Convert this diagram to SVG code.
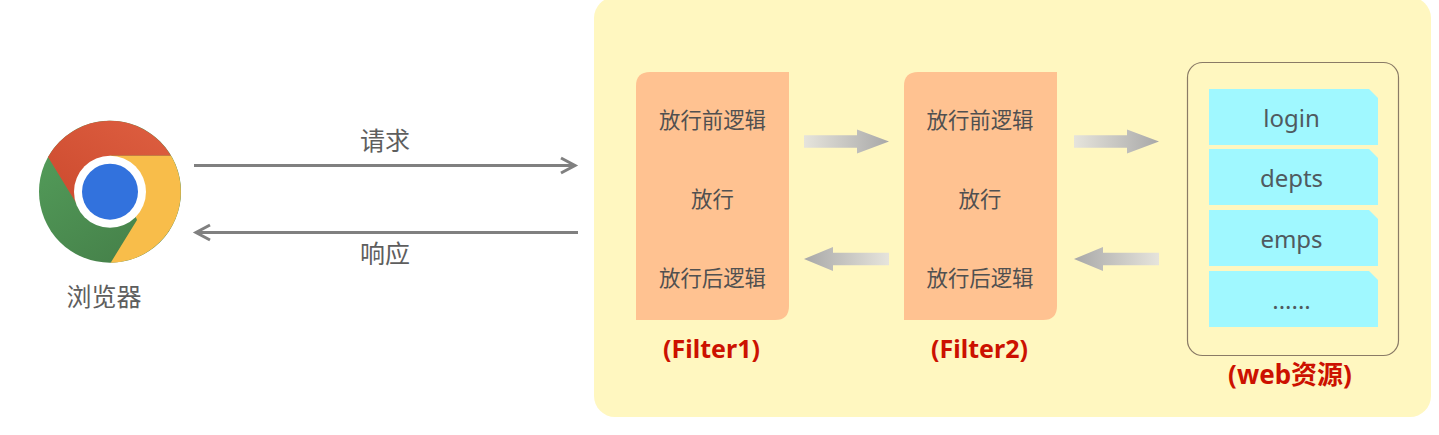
<svg xmlns="http://www.w3.org/2000/svg" width="1439" height="435" viewBox="0 0 1439 435">
  <style>
    text { font-family: "Noto Sans", "Noto Sans CJK SC", sans-serif; text-anchor: middle; }
    .body { font-size: 21.400px; fill: #505050; }
    .link { font-size: 25px; fill: #5e5e5e; }
    .res { font-size: 24px; fill: #4f5a60; }
    .cap { font-size: 25px; font-weight: 700; fill: #cc1100; }
    .stage { fill: #ffc291; }
    .tile { fill: #a0f8ff; }
    .wire { stroke: #808080; stroke-width: 3; fill: none; }
    .head { stroke: #808080; stroke-width: 3; fill: none; }
  </style>
  <defs>
    <linearGradient id="flowR" x1="0" x2="1" y1="0" y2="0">
      <stop offset="0" stop-color="#e6e4dc"/>
      <stop offset="1" stop-color="#a8a8a8"/>
    </linearGradient>
    <linearGradient id="flowL" x1="1" x2="0" y1="0" y2="0">
      <stop offset="0" stop-color="#e6e4dc"/>
      <stop offset="1" stop-color="#a8a8a8"/>
    </linearGradient>
    <linearGradient id="chromeRed" x1="0" x2="1" y1="1" y2="0">
      <stop offset="0" stop-color="#cc4a2e"/>
      <stop offset="1" stop-color="#de5f41"/>
    </linearGradient>
    <linearGradient id="chromeGreen" x1="0" x2="0.700" y1="0" y2="1">
      <stop offset="0" stop-color="#55a05c"/>
      <stop offset="1" stop-color="#458049"/>
    </linearGradient>
    <path id="arrowR" d="M0 -6.300H53V-12L85 0L53 12V6.300H0Z" fill="url(#flowR)"/>
    <path id="arrowL" d="M85 -6.300H29V-12L0 0L29 12V6.300H85Z" fill="url(#flowL)"/>
    <path id="tileShape" d="M0 0H160L169 9V56H0Z"/>
    <path id="stageShape" d="M14 0H153V234Q153 248 139 248H0V14Q0 0 14 0Z"/>
  </defs>

  <rect x="0" y="0" width="1439" height="435" fill="#ffffff"/>
  <rect id="container" x="594" y="-3" width="837" height="420" rx="21" fill="#fff7c0"/>

  <g id="browser">
    <circle cx="110" cy="191.700" r="71" fill="url(#chromeGreen)"/>
    <path d="M78 206L48 157A71 71 0 0 1 171 155.700H110Z" fill="url(#chromeRed)"/>
    <path d="M110 155.700H171A71 71 0 0 1 110.700 262.700L137 220Z" fill="#f8bd4a"/>
    <circle cx="110" cy="191.700" r="36" fill="#ffffff"/>
    <circle cx="110" cy="191.700" r="28" fill="#3272dd"/>
    <text class="link" x="104" y="306">浏览器</text>
  </g>

  <g id="filter1">
    <use href="#stageShape" class="stage" x="636" y="72"/>
    <text class="body" x="712.500" y="128">放行前逻辑</text>
    <text class="body" x="712.500" y="207">放行</text>
    <text class="body" x="712.500" y="286">放行后逻辑</text>
    <text class="cap" x="711.500" y="358">(Filter1)</text>
  </g>

  <g id="filter2">
    <use href="#stageShape" class="stage" x="904" y="72"/>
    <text class="body" x="980" y="128">放行前逻辑</text>
    <text class="body" x="980" y="207">放行</text>
    <text class="body" x="980" y="286">放行后逻辑</text>
    <text class="cap" x="979.500" y="358">(Filter2)</text>
  </g>

  <g id="web-resources">
    <rect x="1187.500" y="62.500" width="211" height="293" rx="15" fill="none" stroke="#8a7b66" stroke-width="1.200"/>
    <use href="#tileShape" class="tile" x="1209" y="89"/>
    <use href="#tileShape" class="tile" x="1209" y="149"/>
    <use href="#tileShape" class="tile" x="1209" y="210"/>
    <use href="#tileShape" class="tile" x="1209" y="271"/>
    <text class="res" x="1291.500" y="127">login</text>
    <text class="res" x="1291.500" y="187">depts</text>
    <text class="res" x="1291.500" y="248">emps</text>
    <text class="res" x="1291.500" y="309">......</text>
    <text class="cap" x="1290" y="384" style="font-size:26px">(web资源)</text>
  </g>

  <g id="connectors">
    <path class="wire" d="M194 165.500H575"/>
    <path class="head" d="M561 158L575 165.500L561 173"/>
    <path class="wire" d="M578 232.500H196"/>
    <path class="head" d="M210 225L196 232.500L210 240"/>
    <use href="#arrowR" x="804" y="141.500"/>
    <use href="#arrowR" x="1074" y="141.500"/>
    <use href="#arrowL" x="804" y="259"/>
    <use href="#arrowL" x="1074" y="259"/>
    <text class="link" x="385" y="150">请求</text>
    <text class="link" x="385" y="263">响应</text>
  </g>
</svg>
